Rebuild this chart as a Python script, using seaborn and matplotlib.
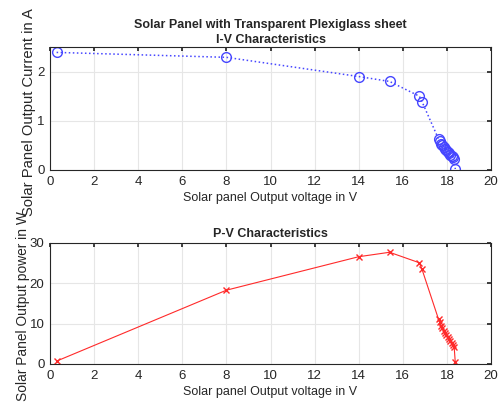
import matplotlib
matplotlib.use("Agg")
import matplotlib.pyplot as plt
import seaborn as sns

voltage = [0.3, 8.0, 14.0, 15.4, 16.75, 16.87, 17.62, 17.68, 17.74, 17.80, 17.86,
           17.92, 17.98, 18.04, 18.10, 18.16, 18.22, 18.28, 18.33, 18.38]
current = [2.39, 2.29, 1.90, 1.80, 1.50, 1.39, 0.63, 0.58, 0.53, 0.50, 0.46,
           0.43, 0.40, 0.37, 0.34, 0.31, 0.28, 0.26, 0.23, 0.02]
power = [0.72, 18.3, 26.6, 27.7, 25.1, 23.5, 11.1, 10.3, 9.4, 8.9, 8.2,
         7.7, 7.2, 6.7, 6.2, 5.6, 5.1, 4.8, 4.2, 0.4]

x_ticks = [0, 2, 4, 6, 8, 10, 12, 14, 16, 18, 20]
iv_yticks = [0, 1, 2]
pv_yticks = [0, 10, 20, 30]

sns.set_theme(style="whitegrid")
plt.rcParams['font.family'] = ['Liberation Sans', 'DejaVu Sans']

fig = plt.figure(figsize=(5.04, 4.07), dpi=100)
ax1 = fig.add_axes([50/504, 1-170/407, 441/504, 123/407])
ax2 = fig.add_axes([50/504, 1-364/407, 441/504, 121/407])

blue = '#4646ff'
red = '#ff2a2a'
sns.lineplot(x=voltage, y=current, ax=ax1, sort=False, estimator=None,
             color=blue, linestyle=':', linewidth=1.1, marker='o', markersize=7,
             markerfacecolor='none', markeredgecolor=blue, markeredgewidth=1.0)
sns.lineplot(x=voltage, y=power, ax=ax2, sort=False, estimator=None,
             color=red, linestyle='-', linewidth=0.8, marker='x', markersize=5,
             markeredgecolor=red, markeredgewidth=1.0)

for ax, yt, ylim in [(ax1, iv_yticks, (0, 2.5)), (ax2, pv_yticks, (0, 30))]:
    ax.set_xlim(0, 20)
    ax.set_ylim(*ylim)
    ax.set_xticks(x_ticks)
    ax.set_yticks(yt)
    ax.grid(True, color='#e6e6e6', linewidth=0.8)
    ax.tick_params(direction='in', length=3, top=True, right=True, labelsize=9.5,
                   colors='#262626', pad=4)
    ax.tick_params(axis='both', which='both', color='#262626', labelcolor='#262626')
    for s in ax.spines.values():
        s.set_color('#262626')
        s.set_linewidth(0.8)
    ax.set_facecolor('white')
    ax.set_xlabel('Solar panel Output voltage in V', fontsize=9, color='#262626', labelpad=3)

ax1.set_title('Solar Panel with Transparent Plexiglass sheet\nI-V Characteristics',
              fontsize=9, fontweight='bold', pad=3, linespacing=1.35)
ax2.set_title('P-V Characteristics', fontsize=9, fontweight='bold', pad=4)
ax1.set_ylabel('Solar Panel Output Current in A', fontsize=10.6, color='#262626', labelpad=4)
ax1.yaxis.set_label_coords(-0.031, 0.47)
ax2.set_ylabel('Solar Panel Output power in W', fontsize=9.9, color='#262626', labelpad=4)
ax2.yaxis.set_label_coords(-0.045, 0.48)

fig.savefig('out.png', dpi=100, facecolor='white')
